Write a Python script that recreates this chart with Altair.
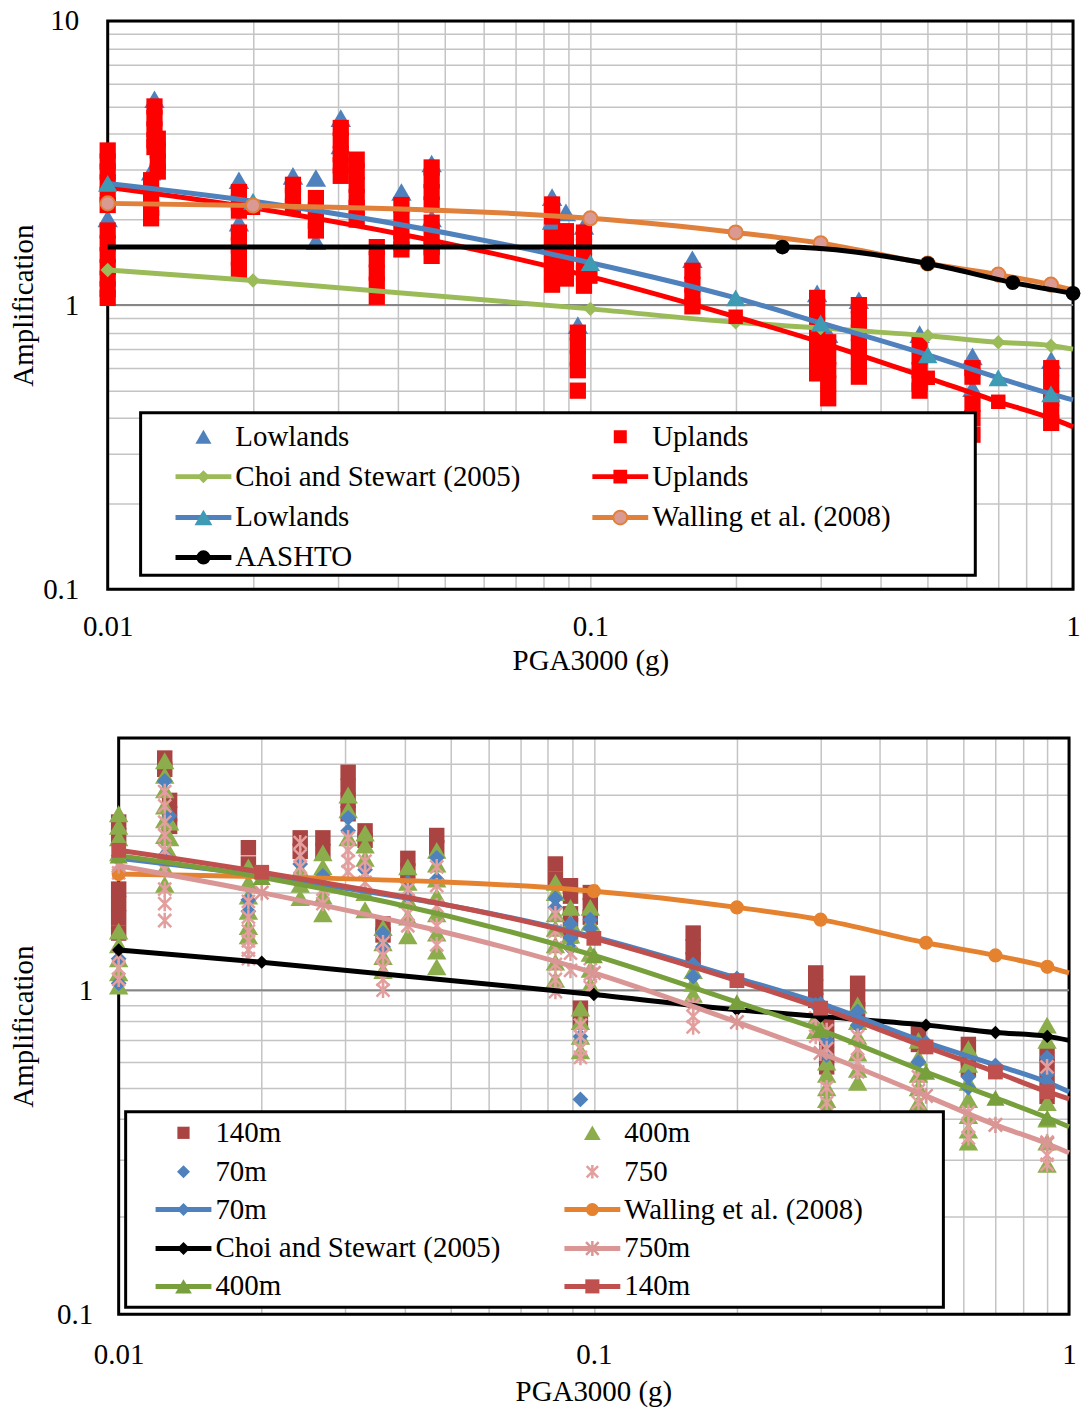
import altair as alt
import pandas as pd

FONT = "Liberation Serif"

# ---------------- upper panel: site classes ----------------
PGA_CURVE = [0.01, 0.02, 0.1, 0.2, 0.3, 0.5, 0.7, 0.9, 1.0]
CHOI_AMP = [1.33, 1.22, 0.97, 0.87, 0.83, 0.78, 0.74, 0.72, 0.70]
WALLING_AMP = [2.28, 2.24, 2.02, 1.80, 1.65, 1.40, 1.28, 1.18, 1.13]
LOWLANDS_FIT = [2.68, 2.32, 1.41, 1.06, 0.865, 0.668, 0.555, 0.487, 0.464]
UPLANDS_FIT = [2.60, 2.20, 1.26, 0.91, 0.74, 0.555, 0.457, 0.40, 0.373]
AASHTO_PGA = [0.01, 0.25, 0.5, 0.75, 1.0]
AASHTO_AMP = [1.6, 1.6, 1.4, 1.2, 1.1]

UPLANDS_OBS = [
    (0.01, [3.5, 3.2, 2.95, 2.7, 2.45, 2.25, 1.83, 1.65, 1.5, 1.36, 1.24, 1.14, 1.06]),
    (0.0125, [5.0, 4.55, 4.15, 3.8, 3.6]),
    (0.0127, [3.85, 3.5, 3.2, 2.95]),
    (0.0123, [2.75, 2.45, 2.2, 2.02]),
    (0.0187, [2.5, 2.3, 2.15, 1.8, 1.62, 1.47, 1.33]),
    (0.0242, [2.65, 2.42, 2.22]),
    (0.027, [2.38, 2.15, 1.98, 1.83]),
    (0.0304, [4.2, 3.8, 3.4, 3.1, 2.85]),
    (0.0328, [3.25, 2.95, 2.65, 2.4, 2.2, 2.0]),
    (0.0361, [1.6, 1.45, 1.3, 1.18, 1.07]),
    (0.0406, [2.25, 2.02, 1.82, 1.66, 1.57]),
    (0.0469, [3.05, 2.75, 2.5, 2.26, 1.95, 1.75, 1.6, 1.49]),
    (0.0833, [2.26, 2.05, 1.73, 1.55, 1.4, 1.27, 1.18]),
    (0.089, [1.82, 1.62, 1.45, 1.32, 1.24]),
    (0.097, [1.8, 1.6, 1.43, 1.29, 1.17]),
    (0.0942, [0.8, 0.72, 0.65, 0.59, 0.5]),
    (0.1627, [1.32, 1.18, 1.07, 0.99]),
    (0.295, [1.06, 0.95, 0.85, 0.76, 0.68, 0.62, 0.575]),
    (0.311, [0.74, 0.66, 0.59, 0.53, 0.47]),
    (0.36, [1.0, 0.89, 0.8, 0.71, 0.63, 0.56]),
    (0.481, [0.74, 0.66, 0.59, 0.53, 0.5]),
    (0.619, [0.6, 0.56, 0.45, 0.4, 0.35]),
    (0.901, [0.6, 0.53, 0.47, 0.42, 0.385]),
]

LOWLANDS_OBS = [
    (0.01, [2.02]),
    (0.0125, [5.3]),
    (0.0123, [2.95]),
    (0.0187, [2.75, 1.95]),
    (0.0242, [2.85]),
    (0.027, [2.8, 1.68]),
    (0.0304, [4.55, 3.65]),
    (0.0406, [2.5]),
    (0.0469, [3.15, 2.02]),
    (0.0833, [2.4, 1.98]),
    (0.089, [2.12]),
    (0.097, [1.9]),
    (0.0942, [0.85]),
    (0.1627, [1.45]),
    (0.295, [1.1]),
    (0.311, [0.79]),
    (0.36, [1.04]),
    (0.481, [0.79]),
    (0.619, [0.66, 0.51]),
    (0.901, [0.64]),
]

# ---------------- lower panel: depth classes ----------------
FIT_140 = [2.70, 2.31, 1.445, 1.07, 0.88, 0.668, 0.559, 0.486, 0.462]
FIT_70 = [2.55, 2.25, 1.46, 1.09, 0.91, 0.69, 0.588, 0.52, 0.486]
FIT_400 = [2.60, 2.23, 1.28, 0.918, 0.753, 0.559, 0.465, 0.404, 0.379]
FIT_750 = [2.42, 2.0, 1.13, 0.797, 0.64, 0.472, 0.384, 0.336, 0.315]

OBS_140 = [
    (0.01, [3.3, 3.0, 2.05, 1.85, 1.67, 1.5]),
    (0.0125, [5.2, 4.8]),
    (0.0128, [3.85, 3.5, 3.2]),
    (0.01875, [2.75, 2.45]),
    (0.0241, [2.95, 2.68]),
    (0.0269, [2.95, 2.68]),
    (0.0304, [4.7, 4.25, 3.85, 3.5]),
    (0.033, [3.1, 2.9]),
    (0.036, [1.6, 1.48]),
    (0.0406, [2.55, 2.33]),
    (0.0467, [3.0, 2.75]),
    (0.083, [2.45, 2.2]),
    (0.0893, [2.1, 1.95, 1.72, 1.58, 1.47]),
    (0.0983, [2.0, 1.82, 1.68]),
    (0.0937, [0.88, 0.81]),
    (0.1618, [1.5, 1.36, 1.24]),
    (0.293, [1.13, 1.02, 0.93]),
    (0.309, [0.78, 0.7, 0.63, 0.58]),
    (0.359, [1.05, 0.95, 0.87]),
    (0.482, [0.75, 0.68]),
    (0.614, [0.68, 0.62, 0.57]),
    (0.899, [0.64, 0.58, 0.52, 0.47]),
]

OBS_400 = [
    (0.01, [3.5, 3.2, 2.95, 2.65, 1.52, 1.38, 1.25, 1.13, 1.03]),
    (0.0125, [5.1, 4.6, 4.15, 3.7, 3.35, 3.0, 2.65, 2.38, 2.12]),
    (0.0128, [3.3, 2.95, 2.65]),
    (0.01875, [2.4, 2.15, 1.95, 1.75, 1.57, 1.47]),
    (0.0241, [2.35, 2.12, 1.93]),
    (0.0269, [2.65, 2.4, 1.95, 1.72]),
    (0.0304, [4.0, 3.6, 2.95]),
    (0.033, [3.05, 2.8, 2.55, 2.0, 1.77]),
    (0.036, [1.56, 1.4, 1.27, 1.15]),
    (0.0406, [2.4, 2.15, 1.9, 1.68, 1.47]),
    (0.0467, [2.7, 2.45, 2.2, 1.95, 1.72, 1.5, 1.32, 1.18]),
    (0.083, [2.15, 2.0, 1.72, 1.55, 1.38, 1.22, 1.08]),
    (0.0893, [1.8, 1.62, 1.48]),
    (0.0983, [1.8, 1.62, 1.3, 1.16, 1.04]),
    (0.0937, [0.88, 0.8, 0.72, 0.65]),
    (0.1618, [1.15, 1.05, 0.97]),
    (0.293, [0.82, 0.75]),
    (0.309, [0.6, 0.55, 0.5, 0.46, 0.43]),
    (0.359, [0.9, 0.8, 0.72, 0.64, 0.57, 0.52]),
    (0.482, [0.7, 0.62, 0.55, 0.5, 0.45]),
    (0.614, [0.66, 0.59, 0.52, 0.46, 0.41, 0.37, 0.34]),
    (0.899, [0.78, 0.7, 0.45, 0.4, 0.34, 0.29]),
]

OBS_70 = [
    (0.01, [2.6, 1.25, 1.05]),
    (0.0125, [4.42, 2.6]),
    (0.0128, [3.45]),
    (0.01875, [1.9, 1.75]),
    (0.0241, [2.45]),
    (0.0269, [2.25]),
    (0.0304, [3.4, 3.1]),
    (0.033, [2.35]),
    (0.036, [1.5, 1.36]),
    (0.0406, [2.15, 1.95]),
    (0.0467, [2.56, 2.2]),
    (0.083, [1.92, 1.8]),
    (0.0893, [1.6, 1.45, 1.35]),
    (0.0983, [1.65, 1.55]),
    (0.0937, [0.72, 0.46]),
    (0.1618, [1.2, 1.1]),
    (0.293, [0.9]),
    (0.309, [0.7, 0.63]),
    (0.359, [0.86, 0.78]),
    (0.482, [0.6]),
    (0.614, [0.54, 0.5]),
    (0.899, [0.62, 0.55]),
]

OBS_750 = [
    (0.01, [2.45, 2.3, 1.28, 1.17, 1.08]),
    (0.0125, [4.1, 3.7, 3.3, 3.0, 2.7, 2.35, 2.05, 1.85, 1.64]),
    (0.01875, [1.88, 1.68, 1.52, 1.42, 1.33, 1.25]),
    (0.0241, [2.85, 2.6, 2.4, 2.2]),
    (0.0269, [2.05, 1.85]),
    (0.0304, [2.95, 2.7, 2.5, 2.32]),
    (0.033, [2.5, 2.3, 2.15]),
    (0.036, [1.4, 1.28, 1.17, 1.08, 1.0]),
    (0.0406, [2.05, 1.88, 1.72, 1.58]),
    (0.0467, [2.4, 2.1, 1.82, 1.58, 1.38]),
    (0.083, [1.72, 1.52, 1.35, 1.2, 1.08, 0.99]),
    (0.0893, [1.3, 1.15]),
    (0.0983, [1.25, 1.12, 1.02]),
    (0.0937, [0.78, 0.72, 0.66, 0.62]),
    (0.1618, [0.9, 0.83, 0.77]),
    (0.293, [0.82, 0.72]),
    (0.309, [0.75, 0.66, 0.5, 0.45]),
    (0.359, [0.72, 0.66, 0.6, 0.56]),
    (0.482, [0.54, 0.49, 0.45]),
    (0.614, [0.42, 0.38, 0.35]),
    (0.899, [0.58, 0.34, 0.31, 0.29]),
]

X_TICKS = [round(m * d, 4) for d in (0.01, 0.1) for m in range(1, 10)] + [1.0]
Y_TICKS_TOP = [round(m * d, 4) for d in (0.1, 1.0) for m in range(1, 10)] + [10.0]
Y_TICKS_BOTTOM = [round(m * 0.1, 4) for m in range(1, 10)] + [1.0, 2.0, 3.0, 4.0, 5.0, 6.0]

# colours
RED = "#FF0000"
BLUE = "#4F81BD"
TEAL = "#3F9BB4"
GREEN = "#9BBB59"
ORANGE = "#E1803A"
ROSE = "#DB9994"
BROWN = "#A94442"
RED_LINE = "#C0504D"
OLIVE = "#8BAD4C"
OLIVE_LINE = "#77A03C"
PINK = "#E39E9E"
PINK_LINE = "#D99694"
ORANGE2 = "#E5822F"
GRID = "#C4C4C4"

ASTERISK = "M-1,-1L1,1M-1,1L1,-1M0,-1.2L0,1.2"

X_LABELS = "datum.value == 0.01 ? '0.01' : datum.value == 0.1 ? '0.1' : datum.value == 1 ? '1' : ''"
Y_LABELS = "datum.value == 0.1 ? '0.1' : datum.value == 1 ? '1' : datum.value == 10 ? '10' : ''"


def observations(groups):
    return pd.DataFrame([{"pga": x, "amp": v} for x, vals in groups for v in vals])


def curve(xs, vs):
    return pd.DataFrame({"pga": xs, "amp": vs})


def axis(values, expr, title, label_pad, title_pad, **extra):
    return alt.Axis(
        values=values, labelExpr=expr, title=title,
        grid=True, gridColor=GRID, gridWidth=1.5, ticks=False, domain=False,
        labelFont=FONT, labelFontSize=29, labelColor="black",
        labelPadding=label_pad, labelOverlap=False, labelFlush=False,
        titleFont=FONT, titleFontSize=29, titleFontWeight="normal",
        titleColor="black", titlePadding=title_pad, **extra,
    )


def encoders(x_range, y_max, y_ticks, xl_pad, xt_pad, yl_pad, yt_pad, x_extra):
    x = alt.X("pga:Q", scale=alt.Scale(type="log", domain=[0.01, 1], nice=False, range=x_range),
              axis=axis(X_TICKS, X_LABELS, "PGA3000 (g)", xl_pad, xt_pad, **x_extra))
    y = alt.Y("amp:Q", scale=alt.Scale(type="log", domain=[0.1, y_max], nice=False),
              axis=axis(y_ticks, Y_LABELS, "Amplification", yl_pad, yt_pad))
    return x, y


ONE = pd.DataFrame({"k": [0]})


def key_entry(cx, cy, tx, label, marker, line=None, half=28):
    parts = []
    if line:
        parts.append(alt.Chart(ONE).mark_rule(color=line, strokeWidth=5).encode(
            x=alt.value(cx - half), x2=alt.value(cx + half), y=alt.value(cy)))
    parts.append(alt.Chart(ONE).mark_point(opacity=1, **marker).encode(
        x=alt.value(cx), y=alt.value(cy)))
    parts.append(alt.Chart(ONE).mark_text(
        align="left", baseline="middle", font=FONT, fontSize=29, color="black"
    ).encode(x=alt.value(tx), y=alt.value(cy), text=alt.value(label)))
    return parts


def box(x1, y1, x2, y2, fill="white"):
    if fill is None:
        mark = alt.Chart(ONE).mark_rect(fillOpacity=0, stroke="black", strokeWidth=3)
    else:
        mark = alt.Chart(ONE).mark_rect(fill=fill, stroke="black", strokeWidth=3)
    return mark.encode(x=alt.value(x1), x2=alt.value(x2), y=alt.value(y1), y2=alt.value(y2))


def series(df, x, y, color, marker, filter_expr="datum.pga < 1"):
    line = alt.Chart(df).mark_line(color=color, strokeWidth=5, interpolate="monotone").encode(x=x, y=y)
    pts = alt.Chart(df).transform_filter(filter_expr).mark_point(opacity=1, **marker).encode(x=x, y=y)
    return [line, pts]


# ---------------- upper chart ----------------
TOP_W, TOP_H = 968, 570
xt, yt = encoders([0, TOP_W], 10, Y_TICKS_TOP, 23, 5, 29, 4, {})

top_layers = [
    box(0, 0, TOP_W, TOP_H, fill=None),
    alt.Chart(pd.DataFrame({"amp": [1.0]})).mark_rule(color="#868686", strokeWidth=2).encode(y=yt),
    alt.Chart(observations(LOWLANDS_OBS)).mark_point(
        shape="triangle-up", filled=True, size=420, color=BLUE, opacity=1).encode(x=xt, y=yt),
    alt.Chart(observations(UPLANDS_OBS)).mark_point(
        shape="square", filled=True, size=265, color=RED, opacity=1).encode(x=xt, y=yt),
]
top_layers += series(curve(PGA_CURVE, CHOI_AMP), xt, yt, GREEN,
                     dict(shape="diamond", filled=True, size=210, color=GREEN))
top_layers += series(curve(PGA_CURVE, UPLANDS_FIT), xt, yt, RED,
                     dict(shape="square", filled=True, size=210, color=RED))
top_layers += series(curve(PGA_CURVE, LOWLANDS_FIT), xt, yt, BLUE,
                     dict(shape="triangle-up", filled=True, size=380, color=TEAL))
top_layers += series(curve(PGA_CURVE, WALLING_AMP), xt, yt, ORANGE,
                     dict(shape="circle", filled=True, size=200, fill=ROSE, stroke=ORANGE, strokeWidth=2))
top_layers += series(curve(AASHTO_PGA, AASHTO_AMP), xt, yt, "black",
                     dict(shape="circle", filled=True, size=220, color="black"), "datum.pga > 0.01")

top_layers.append(box(33, 393, 870, 556))
rows_t = [417, 457, 498, 538]
top_layers += key_entry(96, rows_t[0], 128, "Lowlands", dict(shape="triangle-up", filled=True, size=260, color=BLUE))
top_layers += key_entry(514, rows_t[0], 546, "Uplands", dict(shape="square", filled=True, size=170, color=RED))
top_layers += key_entry(96, rows_t[1], 128, "Choi and Stewart (2005)", dict(shape="diamond", filled=True, size=170, color=GREEN), GREEN)
top_layers += key_entry(514, rows_t[1], 546, "Uplands", dict(shape="square", filled=True, size=190, color=RED), RED)
top_layers += key_entry(96, rows_t[2], 128, "Lowlands", dict(shape="triangle-up", filled=True, size=320, color=TEAL), BLUE)
top_layers += key_entry(514, rows_t[2], 546, "Walling et al. (2008)",
                        dict(shape="circle", filled=True, size=190, fill=ROSE, stroke=ORANGE, strokeWidth=2), ORANGE)
top_layers += key_entry(96, rows_t[3], 128, "AASHTO", dict(shape="circle", filled=True, size=200, color="black"), "black")

top = alt.layer(*top_layers).properties(width=TOP_W, height=TOP_H)

# ---------------- lower chart ----------------
# the frame of this panel starts 11 px right of the view edge
BOT_W, BOT_H, BOT_L = 964, 578, 11
xb, yb = encoders([BOT_L, BOT_W], 6, Y_TICKS_BOTTOM, 26, 8, 15, 18, {"titleX": 487})

bottom_layers = [
    box(BOT_L, 0, BOT_W, BOT_H, fill=None),
    alt.Chart(pd.DataFrame({"amp": [1.0]})).mark_rule(color="#868686", strokeWidth=2).encode(
        y=yb, x=alt.value(BOT_L), x2=alt.value(BOT_W)),
    alt.Chart(observations(OBS_140)).mark_point(
        shape="square", filled=True, size=240, color=BROWN, opacity=1).encode(x=xb, y=yb),
    alt.Chart(observations(OBS_400)).mark_point(
        shape="triangle-up", filled=True, size=380, color=OLIVE, opacity=1).encode(x=xb, y=yb),
    alt.Chart(observations(OBS_70)).mark_point(
        shape="diamond", filled=True, size=250, color=BLUE, opacity=1).encode(x=xb, y=yb),
    alt.Chart(observations(OBS_750)).mark_point(
        shape=ASTERISK, filled=False, size=170, color=PINK, strokeWidth=2.5, opacity=1).encode(x=xb, y=yb),
]
bottom_layers += series(curve(PGA_CURVE, WALLING_AMP), xb, yb, ORANGE2,
                        dict(shape="circle", filled=True, size=200, color=ORANGE2))
bottom_layers += series(curve(PGA_CURVE, CHOI_AMP), xb, yb, "black",
                        dict(shape="diamond", filled=True, size=180, color="black"))
bottom_layers += series(curve(PGA_CURVE, FIT_70), xb, yb, BLUE,
                        dict(shape="diamond", filled=True, size=220, color=BLUE))
bottom_layers += series(curve(PGA_CURVE, FIT_750), xb, yb, PINK_LINE,
                        dict(shape=ASTERISK, filled=False, size=180, color=PINK_LINE, strokeWidth=2.5))
bottom_layers += series(curve(PGA_CURVE, FIT_400), xb, yb, OLIVE_LINE,
                        dict(shape="triangle-up", filled=True, size=330, color=OLIVE_LINE))
bottom_layers += series(curve(PGA_CURVE, FIT_140), xb, yb, RED_LINE,
                        dict(shape="square", filled=True, size=220, color=RED_LINE))

bottom_layers.append(box(BOT_L + 7, 375, BOT_L + 827, 571))
rows_b = [396, 435, 473, 512, 550]
c1, t1, c2, t2 = BOT_L + 65, BOT_L + 97, BOT_L + 475, BOT_L + 507
bottom_layers += key_entry(c1, rows_b[0], t1, "140m", dict(shape="square", filled=True, size=150, color=BROWN))
bottom_layers += key_entry(c2, rows_b[0], t2, "400m", dict(shape="triangle-up", filled=True, size=280, color=OLIVE))
bottom_layers += key_entry(c1, rows_b[1], t1, "70m", dict(shape="diamond", filled=True, size=170, color=BLUE))
bottom_layers += key_entry(c2, rows_b[1], t2, "750", dict(shape=ASTERISK, filled=False, size=130, color=PINK, strokeWidth=2.5))
bottom_layers += key_entry(c1, rows_b[2], t1, "70m", dict(shape="diamond", filled=True, size=170, color=BLUE), BLUE)
bottom_layers += key_entry(c2, rows_b[2], t2, "Walling et al. (2008)", dict(shape="circle", filled=True, size=170, color=ORANGE2), ORANGE2)
bottom_layers += key_entry(c1, rows_b[3], t1, "Choi and Stewart (2005)", dict(shape="diamond", filled=True, size=170, color="black"), "black")
bottom_layers += key_entry(c2, rows_b[3], t2, "750m", dict(shape=ASTERISK, filled=False, size=160, color=PINK_LINE, strokeWidth=2.5), PINK_LINE)
bottom_layers += key_entry(c1, rows_b[4], t1, "400m", dict(shape="triangle-up", filled=True, size=280, color=OLIVE_LINE), OLIVE_LINE)
bottom_layers += key_entry(c2, rows_b[4], t2, "140m", dict(shape="square", filled=True, size=200, color=RED_LINE), RED_LINE)

bottom = alt.layer(*bottom_layers).properties(width=BOT_W, height=BOT_H)

chart = (
    alt.vconcat(top, bottom, spacing=49)
    .resolve_scale(x="independent", y="independent")
    .properties(padding={"left": 9, "top": 5, "right": 0, "bottom": 0}, background="white")
    .configure_view(strokeWidth=0)
)

chart.save("out.html", embed_options={"renderer": "svg", "actions": False})
